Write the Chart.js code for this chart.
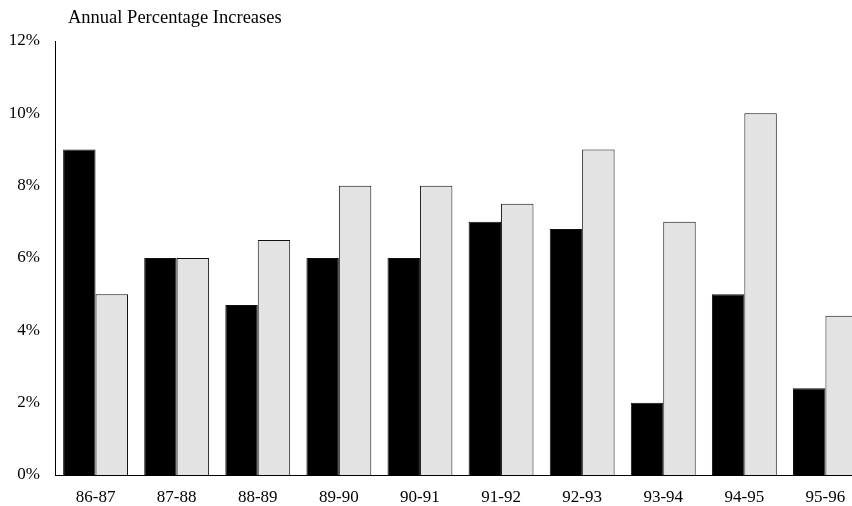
<!DOCTYPE html>
<html>
<head>
<meta charset="utf-8">
<title>Annual Percentage Increases</title>
<script src="https://cdn.jsdelivr.net/npm/chart.js@4.4.1/dist/chart.umd.min.js"></script>
<style>
  html, body { margin: 0; padding: 0; background: #fff; }
  #wrap { width: 852px; height: 506px; overflow: hidden; position: relative; }
  #box  { width: 866px; height: 506px; position: absolute; left: 0; top: 0; }
</style>
</head>
<body>
<div id="wrap">
  <div id="box"><canvas id="grafico"></canvas></div>
</div>
<script>
// dados
const periodos   = ['86-87', '87-88', '88-89', '89-90', '90-91', '91-92', '92-93', '93-94', '94-95', '95-96'];
const serieEscura = [9, 6, 4.7, 6, 6, 7, 6.8, 2, 5, 2.4];
const serieClara  = [5, 6, 6.5, 8, 8, 7.5, 9, 7, 10, 4.4];
const ticksY      = [0, 2, 4, 6, 8, 10, 12];
const tituloTexto = 'Annual Percentage Increases';

const FONTE = '"Liberation Serif", "Times New Roman", serif';

// título desenhado à mão, alinhado com a área do gráfico
const tituloPlugin = {
  id: 'tituloPlugin',
  afterDraw(chart) {
    const ctx = chart.ctx;
    ctx.save();
    ctx.font = '18.5px ' + FONTE;
    ctx.fillStyle = '#000';
    ctx.textAlign = 'left';
    ctx.textBaseline = 'alphabetic';
    ctx.fillText(tituloTexto, chart.chartArea.left + 13, 23);
    ctx.restore();
  }
};

const ctx = document.getElementById('grafico').getContext('2d');

new Chart(ctx, {
  type: 'bar',
  data: {
    labels: periodos,
    datasets: [
      {
        label: 'A',
        data: serieEscura,
        backgroundColor: '#000',
        borderColor: '#111',
        borderWidth: 1,
        categoryPercentage: 0.8,
        barPercentage: 1.0
      },
      {
        label: 'B',
        data: serieClara,
        backgroundColor: '#e3e3e3',
        borderColor: '#111',
        borderWidth: 1,
        categoryPercentage: 0.8,
        barPercentage: 1.0
      }
    ]
  },
  options: {
    responsive: true,
    maintainAspectRatio: false,
    animation: false,
    layout: { padding: { top: 41, right: 0, bottom: 0, left: 0 } },
    plugins: {
      legend: { display: false },
      tooltip: { enabled: false }
    },
    scales: {
      x: {
        grid: { display: false, drawTicks: false },
        border: { color: '#000', width: 1 },
        ticks: {
          color: '#000',
          font: { family: FONTE, size: 17 },
          padding: 12,
          maxRotation: 0
        },
        afterFit: s => { s.height = 31; }
      },
      y: {
        min: 0,
        max: 12,
        grid: { display: false, drawTicks: false },
        border: { color: '#000', width: 1 },
        afterBuildTicks: s => { s.ticks = ticksY.map(v => ({ value: v })); },
        ticks: {
          color: '#000',
          font: { family: FONTE, size: 17 },
          padding: 15,
          callback: v => v + '%'
        },
        afterFit: s => { s.width = 55; }
      }
    }
  },
  plugins: [tituloPlugin]
});
</script>
</body>
</html>
